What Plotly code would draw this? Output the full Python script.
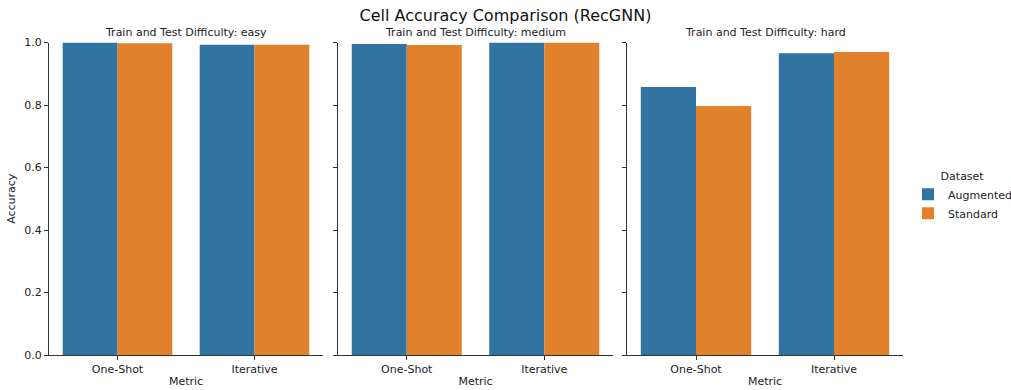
import plotly.graph_objects as go

metrics = ["One-Shot", "Iterative"]
difficulties = ["easy", "medium", "hard"]
augmented = {"easy": [1.000, 0.993], "medium": [0.995, 1.000], "hard": [0.858, 0.966]}
standard = {"easy": [0.998, 0.993], "medium": [0.992, 1.000], "hard": [0.797, 0.970]}
yticks = [0.0, 0.2, 0.4, 0.6, 0.8, 1.0]

BLUE = "#3274a1"
ORANGE = "#e1812c"
FONT = "DejaVu Sans"

W, H = 1011, 390
px_dom = [(49, 323), (338, 613), (627, 903)]
domains = [[a / W, b / W] for a, b in px_dom]
ydom = [1 - 355 / H, 1 - 42.5 / H]

fig = go.Figure()
for i, d in enumerate(difficulties):
    ax = "" if i == 0 else str(i + 1)
    fig.add_trace(go.Bar(x=metrics, y=augmented[d], name="Augmented", marker_color=BLUE,
                         marker_line_width=0, xaxis="x" + ax, yaxis="y" + ax,
                         offsetgroup="a", legendgroup="a", showlegend=(i == 0)))
    fig.add_trace(go.Bar(x=metrics, y=standard[d], name="Standard", marker_color=ORANGE,
                         marker_line_width=0, xaxis="x" + ax, yaxis="y" + ax,
                         offsetgroup="s", legendgroup="s", showlegend=(i == 0)))

layout = dict(
    width=W, height=H,
    margin=dict(l=0, r=0, t=0, b=0, pad=0, autoexpand=False),
    paper_bgcolor="white", plot_bgcolor="white",
    font=dict(family=FONT, size=11, color="#222"),
    barmode="group", bargap=0.2, bargroupgap=0,
    title=dict(text="Cell Accuracy Comparison (RecGNN)", x=0.5, xanchor="center",
               y=1 - 15 / H, yanchor="middle", font=dict(size=16, color="#111")),
    legend=dict(title=dict(text="Dataset", side="top center", font=dict(size=11)),
                x=908 / W, xanchor="left", y=1 - 197 / H, yanchor="middle",
                font=dict(size=11), bgcolor="rgba(0,0,0,0)", itemwidth=30, tracegroupgap=0),
    annotations=[],
)
for i, d in enumerate(difficulties):
    ax = "" if i == 0 else str(i + 1)
    layout["xaxis" + ax] = dict(
        domain=domains[i], anchor="y" + ax, range=[-0.5, 1.5], showgrid=False,
        showline=True, linecolor="#333", linewidth=1, ticks="outside", ticklen=4,
        tickcolor="#333", zeroline=False, automargin=False,
        title=dict(text="Metric", standoff=2, font=dict(size=11)),
        tickfont=dict(size=11),
    )
    layout["yaxis" + ax] = dict(
        domain=ydom, anchor="x" + ax, range=[0, 1.0], showgrid=False,
        showline=True, linecolor="#333", linewidth=1, ticks="outside", ticklen=4,
        tickcolor="#333", zeroline=False, tickvals=yticks, automargin=False,
        ticktext=[f"{v:.1f}" for v in yticks] if i == 0 else [""] * len(yticks),
        showticklabels=(i == 0), tickfont=dict(size=11),
        title=dict(text="Accuracy" if i == 0 else "", standoff=6, font=dict(size=11)),
    )
    layout["annotations"].append(dict(
        text=f"Train and Test Difficulty: {d}", xref="x" + ax + " domain" if ax else "x domain",
        yref="paper", x=0.5, y=ydom[1], xanchor="center", yanchor="bottom", yshift=2,
        showarrow=False, font=dict(size=11, color="#222")))

fig.update_layout(**layout)
fig.write_html("out.html")
